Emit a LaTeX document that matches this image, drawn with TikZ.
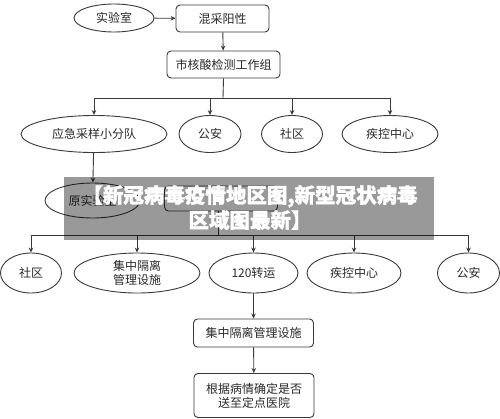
\documentclass[tikz,border=0pt]{standalone}
\usepackage{fontspec}
\setmainfont{Noto Sans CJK SC}
\newfontfamily\bannerfont{Noto Sans CJK SC}[BoldFeatures={FakeBold=1.5}]
\usetikzlibrary{shapes.geometric,arrows.meta}
\definecolor{linec}{HTML}{3A3A3A}
\definecolor{txtc}{HTML}{2A2A2A}
\tikzset{
  ell/.style={ellipse, draw=linec, line width=0.9pt, inner sep=0pt, text=txtc, font=\fontsize{12}{14}\selectfont, align=center},
  rbox/.style={rectangle, rounded corners=4pt, draw=linec, line width=0.9pt, inner sep=0pt, text=txtc, font=\fontsize{12}{14}\selectfont, align=center},
  conn/.style={draw=linec, line width=0.9pt},
  arr/.style={conn, -{Stealth[length=5pt,width=4.5pt]}},
}
\begin{document}
\begin{tikzpicture}[x=1pt,y=-1pt]
\useasboundingbox (0,0) rectangle (500,418);
\fill[white] (0,0) rectangle (500,418);
% top
\node[ell, minimum width=80pt, minimum height=28pt] (lab) at (114,18) {实验室};
\node[rbox, minimum width=93pt, minimum height=27pt] (mix) at (222.5,18.5) {混采阳性};
\node[rbox, minimum width=113pt, minimum height=27pt] (city) at (223.5,64.5) {市核酸检测工作组};
\draw[arr] (lab) -- (mix);
\draw[arr] (mix) -- (city);
% row 2
\node[ell, minimum width=146pt, minimum height=37pt] (emerg) at (94,134) {应急采样小分队};
\node[ell, minimum width=62pt, minimum height=37pt] (police1) at (210,134) {公安};
\node[ell, minimum width=61pt, minimum height=37pt] (comm1) at (292,134) {社区};
\node[ell, minimum width=96pt, minimum height=37pt] (cdc1) at (390,134) {疾控中心};
\coordinate (bar1) at (223,98);
\draw[conn] (city.south) -- (bar1);
\draw[conn] (emerg.north |- bar1) -- (cdc1.north |- bar1);
\foreach \n in {emerg,police1,comm1,cdc1} \draw[arr] (\n.north |- bar1) -- (\n.north);
% hidden row
\node[ell, minimum width=95pt, minimum height=35pt] (orig) at (92.5,200.5) {原实验室};
\node[rbox, minimum width=113pt, minimum height=25pt] (hidden) at (221,198.5) {};
\draw[arr] (emerg) -- (orig);
\coordinate (bar2) at (218,235);
\draw[conn] (hidden.south -| bar2) -- (bar2);
% row 3
\node[ell, minimum width=61pt, minimum height=40pt] (comm2) at (31,273) {社区};
\node[ell, minimum width=126pt, minimum height=40pt] (iso) at (137,273) {集中隔离\\管理设施};
\node[ell, minimum width=89pt, minimum height=40pt] (amb) at (253.5,273) {120转运};
\node[ell, minimum width=94pt, minimum height=40pt] (cdc2) at (354,273) {疾控中心};
\node[ell, minimum width=62pt, minimum height=40pt] (police2) at (468.5,273) {公安};
\draw[conn] (comm2.north |- bar2) -- (police2.north |- bar2);
\foreach \n in {comm2,iso,amb,cdc2,police2} \draw[arr] (\n.north |- bar2) -- (\n.north);
% bottom
\node[rbox, minimum width=120pt, minimum height=28pt] (isobox) at (253.5,333) {集中隔离管理设施};
\node[rbox, minimum width=120pt, minimum height=44pt] (hosp) at (254,395.5) {根据病情确定是否\\送至定点医院};
\draw[arr] (amb) -- (isobox);
\draw[arr] (isobox) -- (hosp);
% banner
\fill[black, opacity=0.4] (64,177) rectangle (434,240);
\node[text=white, font=\fontsize{20.5}{25}\bannerfont\bfseries, align=center, inner sep=0pt] (banner) at (250,207.5) {【新冠病毒疫情地区图,新型冠状病毒\\区域图最新】};
\end{tikzpicture}
\end{document}
